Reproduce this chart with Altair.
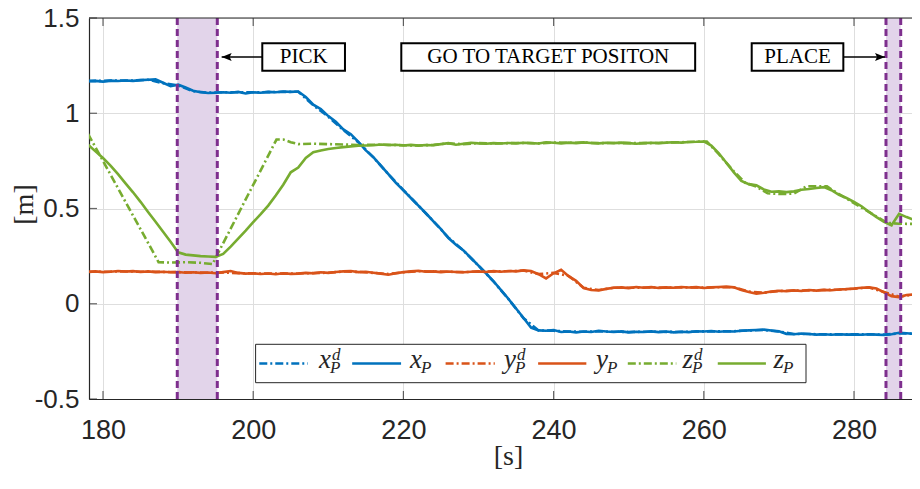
import altair as alt
import pandas as pd

# ---------------- data ----------------
# measured signals (1 s steps)
t_meas = list(range(178, 290))

x_meas = [
    1.168, 1.170, 1.166, 1.171, 1.169, 1.172, 1.170, 1.174, 1.176, 1.178,
    1.160, 1.142, 1.150, 1.135, 1.118, 1.110, 1.106, 1.108, 1.110, 1.108,
    1.112, 1.104, 1.110, 1.108, 1.112, 1.110, 1.114, 1.112, 1.114, 1.085,
    1.045, 1.022, 0.985, 0.955, 0.915, 0.890, 0.850, 0.805, 0.770, 0.725,
    0.680, 0.635, 0.595, 0.555, 0.515, 0.475, 0.432, 0.392, 0.345, 0.310,
    0.280, 0.240, 0.200, 0.160, 0.118, 0.072, 0.025, -0.025, -0.075, -0.125,
    -0.140, -0.142, -0.138, -0.148, -0.146, -0.150, -0.146, -0.148, -0.142, -0.146,
    -0.148, -0.145, -0.150, -0.147, -0.148, -0.145, -0.149, -0.146, -0.150, -0.147,
    -0.149, -0.144, -0.146, -0.143, -0.147, -0.144, -0.146, -0.142, -0.140, -0.138,
    -0.136, -0.140, -0.145, -0.158, -0.160, -0.156, -0.159, -0.162, -0.160, -0.163,
    -0.160, -0.162, -0.161, -0.163, -0.160, -0.162, -0.164, -0.160, -0.152, -0.155,
    -0.158, -0.156,
]

y_meas = [
    0.167, 0.170, 0.166, 0.168, 0.172, 0.169, 0.171, 0.167, 0.170, 0.166,
    0.168, 0.165, 0.167, 0.163, 0.165, 0.162, 0.164, 0.160, 0.166, 0.172,
    0.162, 0.158, 0.160, 0.156, 0.159, 0.155, 0.160, 0.157, 0.158, 0.162,
    0.160, 0.165, 0.162, 0.167, 0.170, 0.172, 0.166, 0.168, 0.163, 0.158,
    0.152, 0.160, 0.166, 0.170, 0.173, 0.168, 0.170, 0.166, 0.169, 0.167,
    0.165, 0.168, 0.170, 0.167, 0.171, 0.168, 0.172, 0.170, 0.175, 0.172,
    0.155, 0.133, 0.160, 0.178, 0.145, 0.120, 0.082, 0.072, 0.070, 0.078,
    0.084, 0.086, 0.082, 0.088, 0.084, 0.087, 0.083, 0.086, 0.084, 0.088,
    0.085, 0.087, 0.083, 0.086, 0.088, 0.090, 0.086, 0.072, 0.062, 0.053,
    0.058, 0.064, 0.068, 0.066, 0.070, 0.067, 0.072, 0.069, 0.073, 0.071,
    0.075, 0.077, 0.080, 0.084, 0.086, 0.080, 0.060, 0.040, 0.035, 0.046,
    0.049, 0.047,
]

z_meas = [
    0.835, 0.800, 0.765, 0.725, 0.680, 0.632, 0.585, 0.535, 0.482, 0.430,
    0.378, 0.325, 0.270, 0.258, 0.254, 0.250, 0.248, 0.246, 0.262, 0.300,
    0.342, 0.384, 0.428, 0.470, 0.515, 0.568, 0.625, 0.690, 0.715, 0.765,
    0.795, 0.805, 0.812, 0.818, 0.822, 0.826, 0.829, 0.831, 0.832, 0.836,
    0.833, 0.835, 0.831, 0.834, 0.830, 0.833, 0.832, 0.838, 0.843, 0.835,
    0.840, 0.845, 0.842, 0.840, 0.843, 0.841, 0.844, 0.842, 0.845, 0.843,
    0.841, 0.848, 0.845, 0.842, 0.846, 0.843, 0.847, 0.844, 0.842, 0.845,
    0.843, 0.846, 0.843, 0.840, 0.843, 0.845, 0.843, 0.846, 0.848, 0.846,
    0.849, 0.850, 0.852, 0.830, 0.790, 0.740, 0.690, 0.645, 0.628, 0.622,
    0.600, 0.588, 0.590, 0.586, 0.590, 0.598, 0.602, 0.608, 0.612, 0.596,
    0.572, 0.555, 0.535, 0.512, 0.482, 0.455, 0.430, 0.412, 0.472, 0.455,
    0.440, 0.432,
]

# desired signals
t_des = list(range(178, 290, 2)) + [289]

x_des = [
    1.170, 1.170, 1.172, 1.172, 1.176, 1.158, 1.146, 1.116, 1.108, 1.110,
    1.110, 1.110, 1.111, 1.112, 1.113, 1.042, 0.982, 0.912, 0.848, 0.768,
    0.680, 0.597, 0.515, 0.433, 0.347, 0.279, 0.200, 0.117, 0.024, -0.076,
    -0.140, -0.142, -0.146, -0.147, -0.145, -0.147, -0.148, -0.147, -0.147, -0.148,
    -0.147, -0.145, -0.145, -0.144, -0.140, -0.138, -0.146, -0.159, -0.159, -0.161,
    -0.161, -0.161, -0.161, -0.162, -0.156, -0.157,
    -0.157,
]

y_des = [
    0.168, 0.168, 0.170, 0.169, 0.168, 0.167, 0.166, 0.164, 0.163, 0.164,
    0.161, 0.159, 0.158, 0.158, 0.159, 0.161, 0.163, 0.169, 0.167, 0.162,
    0.156, 0.165, 0.171, 0.169, 0.168, 0.166, 0.169, 0.170, 0.171, 0.174,
    0.156, 0.162, 0.146, 0.084, 0.072, 0.084, 0.084, 0.085, 0.085, 0.085,
    0.086, 0.085, 0.087, 0.087, 0.064, 0.058, 0.067, 0.069, 0.070, 0.072,
    0.074, 0.079, 0.085, 0.062, 0.037, 0.048,
    0.047,
]

t_zdes = [
    178, 180, 182, 184, 186, 187.4, 189, 191, 193, 194.6,
    195.1, 197, 199, 201, 203.1, 204, 205, 206, 208, 210,
    212, 214, 216, 218, 220, 222, 224, 226, 228, 230,
    232, 234, 236, 238, 240, 242, 244, 246, 248, 250,
    252, 254, 256, 258, 260.4, 262, 264, 265.5, 267, 268.5,
    270, 272, 273.7, 276.4, 277, 279, 281, 283, 284.4, 286,
    288, 289,
]
z_des = [
    0.892, 0.750, 0.606, 0.463, 0.320, 0.218, 0.216, 0.218, 0.215, 0.208,
    0.249, 0.394, 0.548, 0.700, 0.862, 0.862, 0.848, 0.838, 0.840, 0.838,
    0.836, 0.833, 0.835, 0.834, 0.832, 0.831, 0.834, 0.842, 0.838, 0.843,
    0.842, 0.843, 0.844, 0.842, 0.846, 0.845, 0.846, 0.843, 0.844, 0.843,
    0.843, 0.844, 0.847, 0.849, 0.852, 0.785, 0.695, 0.635, 0.615, 0.580,
    0.576, 0.578, 0.617, 0.617, 0.600, 0.552, 0.505, 0.458, 0.425, 0.420,
    0.419, 0.419,
]

x_tick_values = [180, 200, 220, 240, 260, 280]
y_tick_values = [-0.5, 0, 0.5, 1, 1.5]

# phases (time intervals, s)
band_start = [189.89, 284.26]
band_end = [195.22, 286.22]

annotation_labels = ["PICK", "GO TO TARGET POSITON", "PLACE"]

# ---------------- layout / style ----------------
PLOT_W, PLOT_H = 823, 381
X_MIN = 178.136
X_MAX = X_MIN + PLOT_W / 7.51
Y_MIN, Y_MAX = -0.5, 1.5

BLUE, ORANGE, GREEN = "#0072BD", "#D95319", "#77AC30"
PURPLE, BAND_FILL = "#7E2F8E", "#E2D4EA"
AX = "#262626"
DASHDOT = [8, 3, 2, 3]
LW = 2.6

# annotation geometry (data units)
ann_t0 = [201.21, 219.72, 266.38]
ann_t1 = [212.22, 258.85, 278.58]
ann_top, ann_bot, ann_mid = 1.3672, 1.2234, 1.2953
arrow_tip = [195.80, 284.13]
arrow_base = [201.21, 278.58]

# legend geometry (data units)
leg_box = (200.32, 273.61, -0.2129, -0.4144)
leg_t0 = [200.81, 213.18, 225.62, 237.94, 249.88, 261.86]
leg_t1 = [207.27, 219.69, 232.17, 244.36, 256.34, 268.27]
leg_anchor = [210.23, 222.34, 234.86, 247.11, 258.43, 270.55]
leg_line_v = -0.3136
leg_base_v = -0.3388
leg_letters = ["x", "x", "y", "y", "z", "z"]
leg_desired = [True, False, True, False, True, False]
leg_colors = [BLUE, BLUE, ORANGE, ORANGE, GREEN, GREEN]

xscale = alt.Scale(domain=[X_MIN, X_MAX], nice=False, zero=False)
yscale = alt.Scale(domain=[Y_MIN, Y_MAX], nice=False, zero=False)

x_axis = alt.Axis(
    values=x_tick_values, format="d", title="[s]",
    titleFont="Liberation Serif", titleFontSize=28, titleFontWeight="normal",
    titleColor=AX, titleX=419, titleY=57, titleBaseline="middle", titleAlign="center",
    labelFont="Liberation Sans", labelFontSize=27, labelColor=AX, labelPadding=18,
    labelFlush=False, labelOverlap=False,
    ticks=False, tickSize=0, domainColor=AX, domainWidth=1.2,
    grid=True, gridColor="#dedede", gridWidth=1,
)
y_axis = alt.Axis(
    values=y_tick_values,
    labelExpr="datum.value < 0 ? '-' + format(-datum.value, '') : format(datum.value, '')",
    title="[m]",
    titleFont="Liberation Serif", titleFontSize=28, titleFontWeight="normal",
    titleColor=AX, titleX=-65, titleY=186, titleAngle=270,
    titleBaseline="middle", titleAlign="center",
    labelFont="Liberation Sans", labelFontSize=26, labelColor=AX, labelPadding=10,
    labelFlush=False, labelOverlap=False,
    ticks=False, tickSize=0, domainColor=AX, domainWidth=1.2,
    grid=True, gridColor="#dedede", gridWidth=1,
)


def X(field):
    return alt.X(field, type="quantitative", scale=xscale, axis=x_axis)


def Y(field):
    return alt.Y(field, type="quantitative", scale=yscale, axis=y_axis)


layers = []

# phase bands
bands = pd.DataFrame({"a": band_start, "b": band_end})
layers.append(alt.Chart(bands).mark_rect(color=BAND_FILL, clip=True).encode(x=X("a"), x2="b"))


def line_layer(t, v, color, dashed):
    df = pd.DataFrame({"t": t, "v": v})
    kw = dict(color=color, strokeWidth=LW, clip=True)
    if dashed:
        kw["strokeDash"] = DASHDOT
    return alt.Chart(df).mark_line(**kw).encode(x=X("t"), y=Y("v"))


layers += [
    line_layer(t_des, x_des, BLUE, True),
    line_layer(t_meas, x_meas, BLUE, False),
    line_layer(t_des, y_des, ORANGE, True),
    line_layer(t_meas, y_meas, ORANGE, False),
    line_layer(t_zdes, z_des, GREEN, True),
    line_layer(t_meas, z_meas, GREEN, False),
]

# dashed band edges
edges = pd.DataFrame({"t": band_start + band_end})
layers.append(
    alt.Chart(edges).mark_rule(color=PURPLE, strokeWidth=3, strokeDash=[7, 4]).encode(x=X("t"))
)

# top frame line and inward ticks
layers.append(
    alt.Chart(pd.DataFrame({"v": [Y_MAX]})).mark_rule(color=AX, strokeWidth=1.2).encode(y=Y("v"))
)
xt_bot = pd.DataFrame({"t": x_tick_values, "v": [Y_MIN] * len(x_tick_values)})
xt_top = pd.DataFrame({"t": x_tick_values, "v": [Y_MAX] * len(x_tick_values)})
yt_left = pd.DataFrame({"t": [X_MIN] * len(y_tick_values), "v": y_tick_values})
layers.append(alt.Chart(xt_bot).mark_tick(orient="vertical", size=8, thickness=1.2,
                                          yOffset=-4, color=AX).encode(x=X("t"), y=Y("v")))
layers.append(alt.Chart(xt_top).mark_tick(orient="vertical", size=8, thickness=1.2,
                                          yOffset=4, color=AX).encode(x=X("t"), y=Y("v")))
layers.append(alt.Chart(yt_left).mark_tick(orient="horizontal", size=8, thickness=1.2,
                                           xOffset=4, color=AX).encode(x=X("t"), y=Y("v")))

# legend
lb = pd.DataFrame({"a": [leg_box[0]], "b": [leg_box[1]], "c": [leg_box[2]], "d": [leg_box[3]]})
layers.append(alt.Chart(lb).mark_rect(fill="white", stroke=AX, strokeWidth=1).encode(
    x=X("a"), x2="b", y=Y("c"), y2="d"))

leg = pd.DataFrame({
    "a": leg_t0, "b": leg_t1, "v": [leg_line_v] * 6, "col": leg_colors,
    "des": leg_desired, "anchor": leg_anchor, "base": [leg_base_v] * 6, "letter": leg_letters,
})
leg_d = leg[leg["des"]]
leg_m = leg[~leg["des"]]
layers.append(alt.Chart(leg_d).mark_rule(strokeWidth=LW, strokeDash=DASHDOT).encode(
    x=X("a"), x2="b", y=Y("v"), color=alt.Color("col:N", scale=None)))
layers.append(alt.Chart(leg_m).mark_rule(strokeWidth=LW).encode(
    x=X("a"), x2="b", y=Y("v"), color=alt.Color("col:N", scale=None)))
layers.append(alt.Chart(leg).mark_text(
    align="right", baseline="alphabetic", font="Liberation Serif", fontStyle="italic",
    fontSize=27, color=AX, dx=1).encode(x=X("anchor"), y=Y("base"), text="letter:N"))
layers.append(alt.Chart(leg).mark_text(
    align="left", baseline="alphabetic", font="Liberation Serif", fontStyle="italic",
    fontSize=17, color=AX, dy=5, text="P").encode(x=X("anchor"), y=Y("base")))
layers.append(alt.Chart(leg_d).mark_text(
    align="left", baseline="alphabetic", font="Liberation Serif", fontStyle="italic",
    fontSize=17, color=AX, dx=2, dy=-8.5, text="d").encode(x=X("anchor"), y=Y("base")))

# annotations
ann = pd.DataFrame({
    "a": ann_t0, "b": ann_t1, "c": [ann_top] * 3, "d": [ann_bot] * 3,
    "m": [(p + q) / 2 for p, q in zip(ann_t0, ann_t1)], "mid": [ann_mid] * 3,
    "label": annotation_labels,
})
layers.append(alt.Chart(ann).mark_rect(fill="white", stroke="black", strokeWidth=2).encode(
    x=X("a"), x2="b", y=Y("c"), y2="d"))
layers.append(alt.Chart(ann).mark_text(
    font="Liberation Serif", fontSize=21, color="black", baseline="middle", align="center").encode(
    x=X("m"), y=Y("mid"), text="label:N"))

arr = pd.DataFrame({"a": arrow_tip, "b": arrow_base, "v": [ann_mid] * 2})
layers.append(alt.Chart(arr).mark_rule(color="black", strokeWidth=1.5).encode(
    x=X("a"), x2="b", y=Y("v")))
layers.append(alt.Chart(arr.iloc[[0]]).mark_point(
    shape="M0,0 L2,-0.8 L1.6,0 L2,0.8 Z", size=100, filled=True, color="black", opacity=1).encode(
    x=X("a"), y=Y("v")))
layers.append(alt.Chart(arr.iloc[[1]]).mark_point(
    shape="M0,0 L-2,-0.8 L-1.6,0 L-2,0.8 Z", size=100, filled=True, color="black", opacity=1).encode(
    x=X("a"), y=Y("v")))

chart = alt.layer(*layers).properties(
    width=PLOT_W, height=PLOT_H,
    padding={"left": 81, "top": 10, "right": 0, "bottom": 76},
    autosize=alt.AutoSizeParams(type="none"),
    background="white",
).configure_view(stroke=None)

chart.save("out.html", embed_options={"renderer": "svg", "actions": False})
